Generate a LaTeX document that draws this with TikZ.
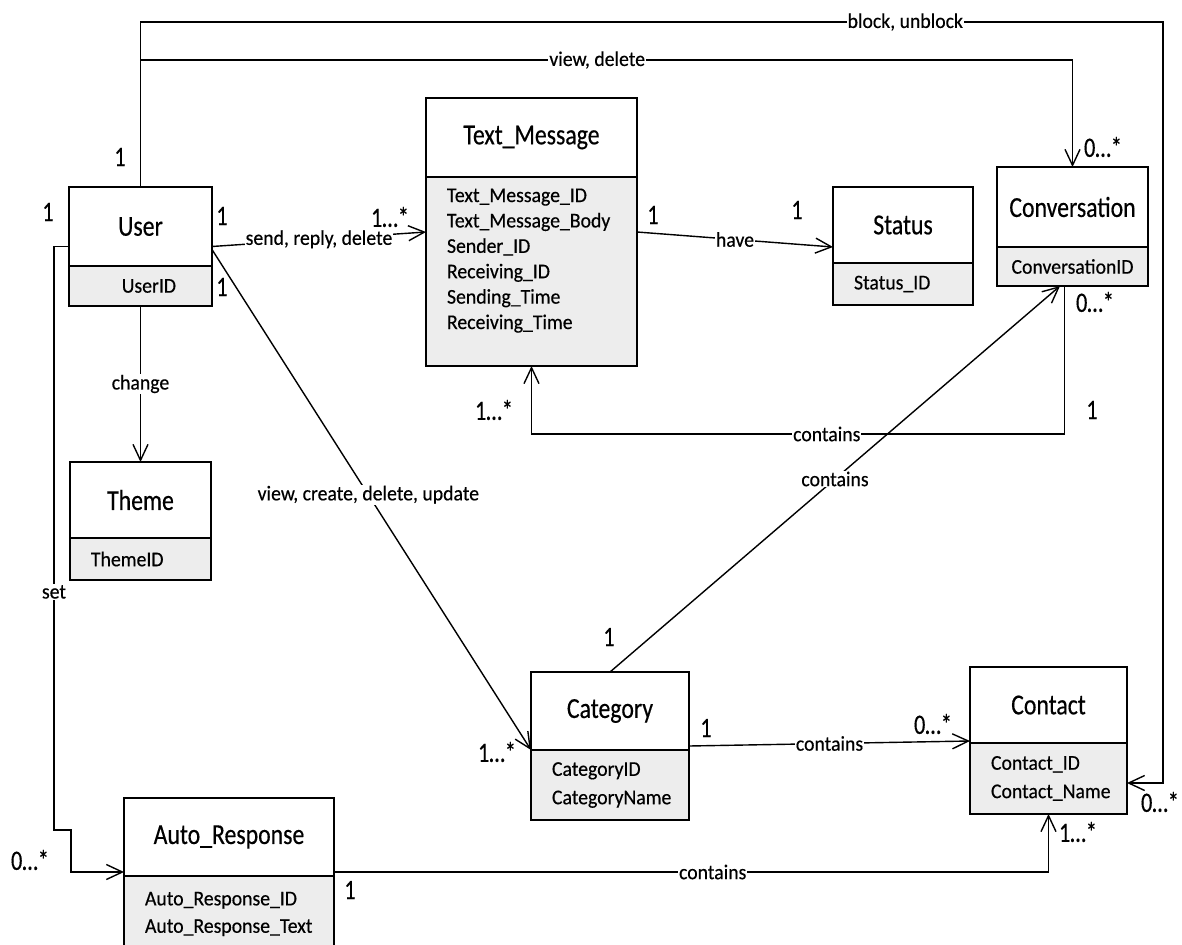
\documentclass[tikz,border=0pt]{standalone}
\usepackage{fontspec}
\setmainfont{Carlito}
\newfontfamily\classfont{Carlito}[FakeStretch=0.82,FakeBold=0.4]
\newfontfamily\attrfont{Carlito}[FakeStretch=0.94,FakeBold=0.4]
\newfontfamily\multfont{Carlito}[FakeStretch=0.8,FakeBold=0.3]
\usetikzlibrary{arrows.meta,positioning}

\begin{document}
\begin{tikzpicture}[x=1pt,y=-1pt,
        classname/.style={draw,line width=1.8pt,fill=white,outer sep=0pt,inner sep=0pt,
            font=\classfont\fontsize{29}{32}\selectfont},
        classattr/.style={draw,line width=1.8pt,fill=black!7,outer sep=0pt,inner xsep=21pt,
            inner ysep=0pt,align=left,font=\attrfont\fontsize{21}{25.4}\selectfont},
        assoc/.style={line width=1.4pt,-{Straight Barb[length=16pt,width=15pt,line width=1.4pt]}},
        lbl/.style={fill=white,inner sep=1pt,font=\attrfont\fontsize{21}{24}\selectfont},
        mult/.style={inner sep=0pt,font=\multfont\fontsize{28}{30}\selectfont}
    ]
    \useasboundingbox (0,0) rectangle (1182,944);

    % classes
    \node[classname,minimum width=143pt,minimum height=79pt] (user) at (140.5,226.5) {User};
    \node[classattr,below=0pt of user,align=right,inner xsep=36pt,text width=71pt,minimum height=40pt] (userattr) {UserID};

    \node[classname,minimum width=211pt,minimum height=79pt] (textmsg) at (531.5,137.5) {Text\_Message};
    \node[classattr,below=0pt of textmsg,text width=169pt,minimum height=189pt] (textmsgattr)
        {Text\_Message\_ID\\Text\_Message\_Body\\Sender\_ID\\Receiving\_ID\\Sending\_Time\\Receiving\_Time\\\mbox{}};

    \node[classname,minimum width=140pt,minimum height=76pt] (status) at (903,225) {Status};
    \node[classattr,below=0pt of status,text width=98pt,minimum height=42pt] (statusattr) {Status\_ID};

    \node[classname,minimum width=151pt,minimum height=80pt] (conv) at (1072.5,207) {Conversation};
    \node[classattr,below=0pt of conv,align=center,inner xsep=8pt,text width=135pt,minimum height=39pt] (convattr) {ConversationID};

    \node[classname,minimum width=141pt,minimum height=76pt] (theme) at (140.5,500) {Theme};
    \node[classattr,below=0pt of theme,text width=99pt,minimum height=42pt] (themeattr) {ThemeID};

    \node[classname,minimum width=158pt,minimum height=78pt] (category) at (610,711) {Category};
    \node[classattr,below=0pt of category,text width=116pt,minimum height=70pt] (categoryattr) {CategoryID\\[3pt]CategoryName};

    \node[classname,minimum width=157pt,minimum height=76pt] (contact) at (1048.5,705) {Contact};
    \node[classattr,below=0pt of contact,text width=115pt,minimum height=71pt] (contactattr) {Contact\_ID\\[3pt]Contact\_Name};

    \node[classname,minimum width=210pt,minimum height=78pt] (auto) at (229,837) {Auto\_Response};
    \node[classattr,below=0pt of auto,text width=168pt,minimum height=76pt] (autoattr) {Auto\_Response\_ID\\[2pt]Auto\_Response\_Text};

    % associations
    \coordinate (blockturn) at (1163,22);
    \coordinate (viewsplit) at (140.5,60);
    \coordinate (convloop) at (1064.5,434);
    \coordinate (setA) at (54,830);
    \coordinate (setB) at (71,830);

    \draw[assoc] (user.north) |- node[lbl,pos=0.874] (lblock) {block, unblock} (blockturn)
        |- ([yshift=-4.5pt]contactattr.east);
    \draw[assoc] (viewsplit) -| node[lbl,pos=0.245] (lview) {view, delete} (conv.north);
    \draw[assoc] ([yshift=-20pt]user.east) -- node[lbl] (lsend) {send, reply, delete} ([yshift=-55pt]textmsgattr.north west);
    \draw[assoc] ([yshift=-23pt]user.east) -- node[lbl,pos=0.49] (lcat) {view, create, delete, update} (categoryattr.north west);
    \draw[assoc] (userattr.south) -- node[lbl] (lchange) {change} (theme.north);
    \draw[assoc] ([yshift=-20pt]user.west) -| node[lbl,pos=0.796] (lset) {set} (setA) -- (setB)
        |- ([yshift=4pt]auto.south west);
    \draw[assoc] ([yshift=-55pt]textmsgattr.north east) -- node[lbl] (lhave) {have} ([yshift=-22pt]status.west);
    \draw[assoc] ([xshift=-8pt]convattr.south) -- (convloop) -| node[lbl,pos=0.223] (lmsgs) {contains} (textmsgattr.south);
    \draw[assoc] (category.north) -- node[lbl] (lconvs) {contains} ([xshift=-12.5pt]convattr.south);
    \draw[assoc] ([yshift=4pt]category.south east) -- node[lbl] (lcontacts) {contains} ([yshift=2pt]contact.south west);
    \draw[assoc] ([yshift=4pt]auto.south east) -| node[lbl,pos=0.265] (lauto) {contains} (contactattr.south);

    % multiplicities
    \node[mult] (m1) at (120,157) {1};
    \node[mult] (m2) at (48,212) {1};
    \node[mult] (m3) at (222,216) {1};
    \node[mult] (m4) at (222,287) {1};
    \node[mult] (m5) at (390,217) {1…*};
    \node[mult] (m6) at (653,215) {1};
    \node[mult] (m7) at (797,210) {1};
    \node[mult] (m8) at (1103,147) {0…*};
    \node[mult] (m9) at (1095,302) {0…*};
    \node[mult] (m10) at (1092,410) {1};
    \node[mult] (m11) at (494,410) {1…*};
    \node[mult] (m12) at (497,752) {1…*};
    \node[mult] (m13) at (609,637) {1};
    \node[mult] (m14) at (706,728) {1};
    \node[mult] (m15) at (933,724) {0…*};
    \node[mult] (m16) at (1160,802) {0…*};
    \node[mult] (m17) at (1078,832) {1…*};
    \node[mult] (m18) at (350,890) {1};
    \node[mult] (m19) at (30,860) {0…*};
\end{tikzpicture}
\end{document}
